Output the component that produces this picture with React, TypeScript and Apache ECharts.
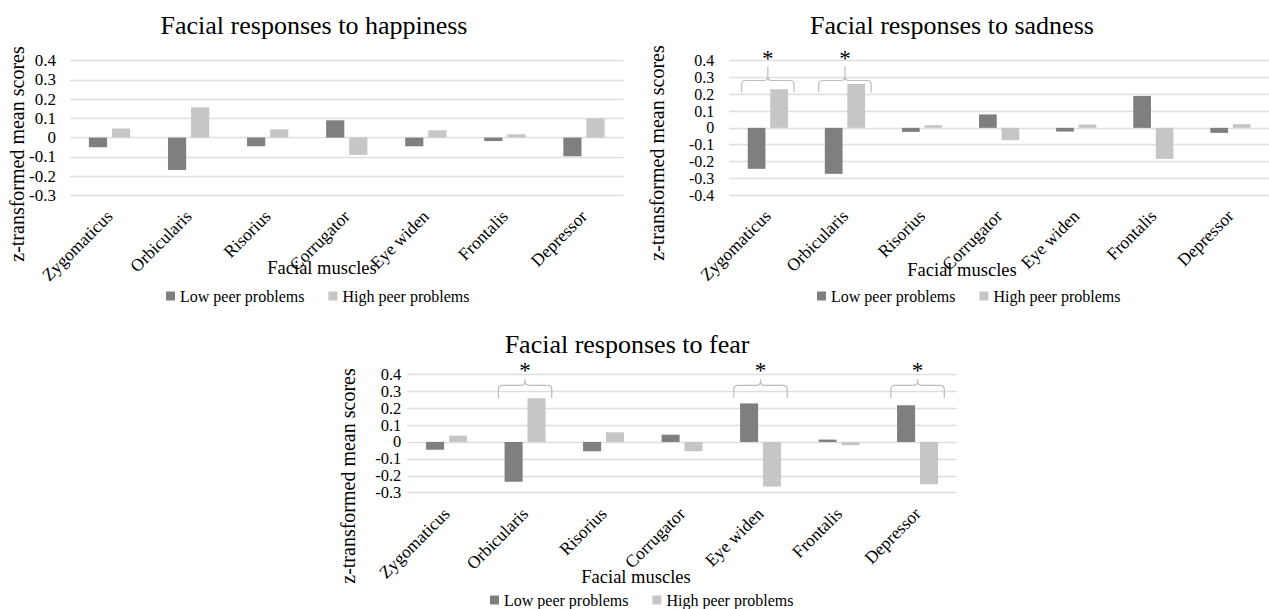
import React, { useEffect, useRef } from "react";
import * as echarts from "echarts";

const muscles = ["Zygomaticus", "Orbicularis", "Risorius", "Corrugator", "Eye widen", "Frontalis", "Depressor"];
const seriesNames = ["Low peer problems", "High peer problems"];

const happyLow = [-0.05, -0.168, -0.045, 0.09, -0.045, -0.018, -0.097];
const happyHigh = [0.048, 0.157, 0.043, -0.09, 0.038, 0.017, 0.1];
const sadLow = [-0.244, -0.274, -0.024, 0.08, -0.022, 0.19, -0.03];
const sadHigh = [0.23, 0.262, 0.016, -0.073, 0.02, -0.185, 0.022];
const fearLow = [-0.046, -0.235, -0.055, 0.043, 0.228, 0.014, 0.217];
const fearHigh = [0.037, 0.258, 0.057, -0.055, -0.264, -0.02, -0.25];

const happySig: string[] = [];
const sadSig = ["Zygomaticus", "Orbicularis"];
const fearSig = ["Orbicularis", "Eye widen", "Depressor"];
// bracket levels: [ends, horizontal, peak, asterisk]
const sadBracket = [0.21, 0.282, 0.367, 0.414];
const fearBracket = [0.26, 0.335, 0.37, 0.42];

const FONT = "'Liberation Serif', 'Times New Roman', Times, serif";
const LOW_COLOR = "#7f7f7f";
const HIGH_COLOR = "#c6c6c6";
const GRID_COLOR = "#dedede";

const panels = [
  {
    title: "Facial responses to happiness",
    low: happyLow, high: happyHigh, sig: happySig, bracket: sadBracket,
    yMin: -0.3, yMax: 0.4,
    grid: { left: 70, top: 60.7, width: 553.5, height: 134.6 },
    labelMargin: 14, labelSize: 17,
    titlePos: [314, 25], xNamePos: [322, 268], yNamePos: [17, 154], legendPos: [166, 288],
  },
  {
    title: "Facial responses to sadness",
    low: sadLow, high: sadHigh, sig: sadSig, bracket: sadBracket,
    yMin: -0.4, yMax: 0.4,
    grid: { left: 729.3, top: 60.7, width: 544, height: 134.3 },
    labelMargin: 15, labelSize: 16,
    titlePos: [952, 25], xNamePos: [962, 270], yNamePos: [657, 153], legendPos: [817, 288],
  },
  {
    title: "Facial responses to fear",
    low: fearLow, high: fearHigh, sig: fearSig, bracket: fearBracket,
    yMin: -0.3, yMax: 0.4,
    grid: { left: 407.3, top: 374.3, width: 549.5, height: 118.4 },
    labelMargin: 6, labelSize: 16.5,
    titlePos: [627, 344], xNamePos: [636, 577], yNamePos: [348, 476], legendPos: [490, 592],
  },
];

function bracketRender(params: any, api: any) {
  const cat = api.value(0);
  const pb = api.coord([cat, api.value(1)]);
  const yh = api.coord([cat, api.value(2)])[1];
  const yp = api.coord([cat, api.value(3)])[1];
  const ys = api.coord([cat, api.value(4)])[1];
  const band = api.size([1, 0])[0];
  const xc = pb[0];
  const yb = pb[1];
  const half = band * 0.34;
  const x0 = xc - half;
  const x1 = xc + half;
  const r = 4;
  const d =
    `M ${x0} ${yb} L ${x0} ${yh + r} Q ${x0} ${yh} ${x0 + r} ${yh} L ${xc - r} ${yh} ` +
    `Q ${xc} ${yh} ${xc} ${yh - r} L ${xc} ${yp} ` +
    `M ${xc} ${yh - r} Q ${xc} ${yh} ${xc + r} ${yh} L ${x1 - r} ${yh} Q ${x1} ${yh} ${x1} ${yh + r} L ${x1} ${yb}`;
  return {
    type: "group",
    children: [
      { type: "path", shape: { pathData: d }, style: { stroke: "#bdbdbd", fill: "none", lineWidth: 1.2 } },
      {
        type: "text",
        x: xc,
        y: ys,
        style: { text: "*", font: `23px ${FONT}`, textAlign: "center", textVerticalAlign: "middle", fill: "#000" },
      },
    ],
  };
}

function buildOption() {
  const grid: any[] = [];
  const xAxis: any[] = [];
  const yAxis: any[] = [];
  const series: any[] = [];
  const legend: any[] = [];
  const graphic: any[] = [];

  panels.forEach((p, i) => {
    grid.push({ ...p.grid, containLabel: false });
    xAxis.push({
      type: "category",
      gridIndex: i,
      data: muscles,
      position: "bottom",
      boundaryGap: true,
      axisLine: { show: false, onZero: false },
      axisTick: { show: false },
      splitLine: { show: false },
      axisLabel: { rotate: 45, interval: 0, margin: 18, fontSize: 17.5, fontFamily: FONT, color: "#000" },
    });
    yAxis.push({
      type: "value",
      gridIndex: i,
      min: p.yMin,
      max: p.yMax,
      interval: 0.1,
      axisLine: { show: false },
      axisTick: { show: false },
      splitLine: { show: true, lineStyle: { color: GRID_COLOR, width: 1.3 } },
      axisLabel: {
        margin: p.labelMargin,
        fontSize: p.labelSize,
        fontFamily: FONT,
        color: "#000",
        formatter: (v: number) => (Math.abs(v) < 1e-9 ? "0" : v.toFixed(1)),
      },
    });
    series.push({
      name: seriesNames[0],
      type: "bar",
      xAxisIndex: i,
      yAxisIndex: i,
      data: p.low,
      barWidth: "23%",
      barGap: "27%",
      itemStyle: { color: LOW_COLOR },
    });
    series.push({
      name: seriesNames[1],
      type: "bar",
      xAxisIndex: i,
      yAxisIndex: i,
      data: p.high,
      barWidth: "23%",
      barGap: "27%",
      itemStyle: { color: HIGH_COLOR },
    });
    if (p.sig.length) {
      series.push({
        type: "custom",
        name: "sig" + i,
        xAxisIndex: i,
        yAxisIndex: i,
        z: 5,
        clip: false,
        renderItem: bracketRender,
        encode: { x: 0, y: 1 },
        data: p.sig.map((m) => [muscles.indexOf(m), ...p.bracket]),
      });
    }
    legend.push({
      left: p.legendPos[0],
      top: p.legendPos[1],
      orient: "horizontal",
      icon: "rect",
      itemWidth: 9,
      itemHeight: 9,
      itemGap: 24,
      padding: 0,
      selectedMode: false,
      textStyle: { fontSize: 16, fontFamily: FONT, color: "#000" },
      data: seriesNames,
    });
    graphic.push({
      type: "text",
      x: p.titlePos[0],
      y: p.titlePos[1],
      style: { text: p.title, font: `26px ${FONT}`, textAlign: "center", textVerticalAlign: "middle", fill: "#000" },
    });
    graphic.push({
      type: "text",
      x: p.xNamePos[0],
      y: p.xNamePos[1],
      style: { text: "Facial muscles", font: `18.5px ${FONT}`, textAlign: "center", textVerticalAlign: "middle", fill: "#000" },
    });
    graphic.push({
      type: "text",
      x: p.yNamePos[0],
      y: p.yNamePos[1],
      rotation: Math.PI / 2,
      style: {
        text: "z-transformed mean scores",
        font: `20px ${FONT}`,
        textAlign: "center",
        textVerticalAlign: "middle",
        fill: "#000",
      },
    });
  });

  return {
    animation: false,
    backgroundColor: "#fff",
    grid,
    xAxis,
    yAxis,
    series,
    legend,
    graphic,
  };
}

export default function App() {
  const ref = useRef<HTMLDivElement>(null);
  useEffect(() => {
    if (!ref.current) return;
    const chart = echarts.init(ref.current, undefined, { renderer: "svg" });
    chart.setOption(buildOption() as any);
    return () => chart.dispose();
  }, []);
  return (
    <div
      ref={ref}
      style={{ position: "fixed", left: 0, top: 0, width: 1269, height: 609, background: "#fff" }}
    />
  );
}
